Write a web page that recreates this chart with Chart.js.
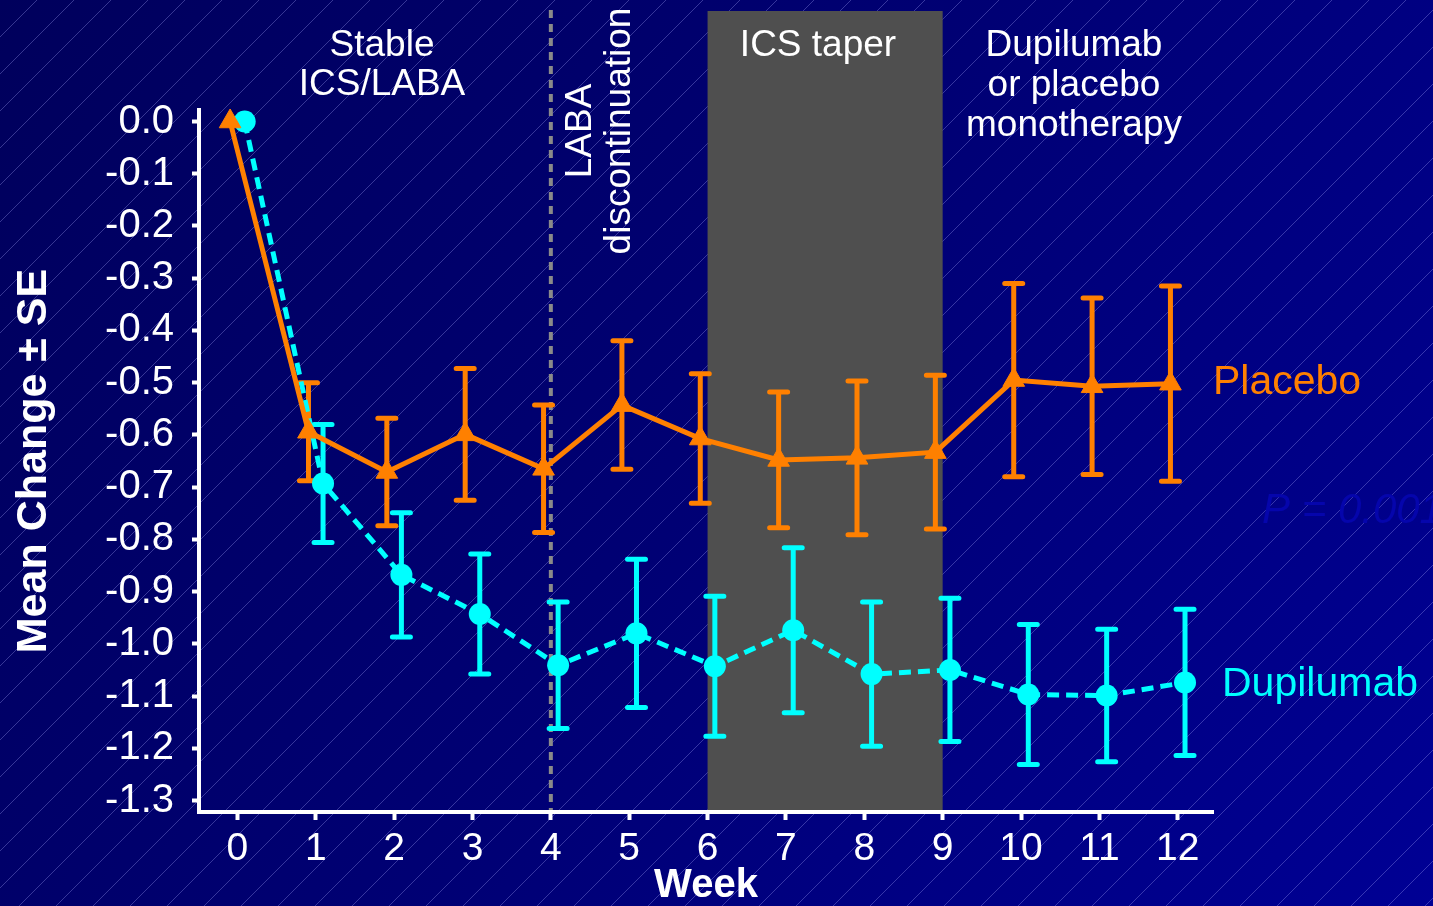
<!DOCTYPE html>
<html>
<head>
<meta charset="utf-8">
<script src="https://cdn.jsdelivr.net/npm/chart.js@4.4.1/dist/chart.umd.min.js"></script>
<style>
html, body { margin: 0; padding: 0; background: #000066; }
#wrap { width: 1433px; height: 906px; }
</style>
</head>
<body>
<div id="wrap"><canvas id="chart" width="1433" height="906"></canvas></div>
<script>
// data
var weeks = [0, 1, 2, 3, 4, 5, 6, 7, 8, 9, 10, 11, 12];
var placeboMean = [0, -0.594, -0.671, -0.599, -0.665, -0.543, -0.607, -0.648, -0.644, -0.633, -0.495, -0.507, -0.502];
var placeboSE   = [0, 0.094, 0.103, 0.126, 0.122, 0.123, 0.124, 0.130, 0.147, 0.147, 0.185, 0.169, 0.187];
var dupiMean    = [0, -0.693, -0.868, -0.943, -1.041, -0.980, -1.043, -0.974, -1.058, -1.050, -1.097, -1.099, -1.074];
var dupiSE      = [0, 0.113, 0.119, 0.115, 0.121, 0.142, 0.134, 0.158, 0.138, 0.137, 0.134, 0.127, 0.140];
var yTicks = [0, -0.1, -0.2, -0.3, -0.4, -0.5, -0.6, -0.7, -0.8, -0.9, -1.0, -1.1, -1.2, -1.3];
var xTicks = weeks;
var labaWeek = 4;
var taperWeeks = [6, 9];

var FONT = '"Liberation Sans", Arial, sans-serif';
var ORANGE = '#ff8000';
var CYAN = '#00ffff';
var jitter = 0.093; // placebo drawn a bit left, dupilumab a bit right

function points(mean, shift) {
    return weeks.map(function(w, i) { return {x: w + shift, y: mean[i]}; });
}

// background, hatch lines, taper band and LABA line
var backdrop = {
    id: 'backdrop',
    beforeDraw: function(chart) {
        var ctx = chart.ctx, w = chart.width, h = chart.height;
        var xs = chart.scales.x, area = chart.chartArea;
        ctx.save();
        var g = ctx.createLinearGradient(0, 0, w, h);
        g.addColorStop(0, '#00005c');
        g.addColorStop(0.5, '#000074');
        g.addColorStop(1, '#000094');
        ctx.fillStyle = g;
        ctx.fillRect(0, 0, w, h);

        ctx.strokeStyle = 'rgba(170,170,255,0.32)';
        ctx.lineWidth = 1;
        ctx.beginPath();
        for (var c = -h; c < w + h; c += 37) {
            ctx.moveTo(c, h);
            ctx.lineTo(c + h, 0);
        }
        ctx.stroke();

        var a = xs.getPixelForValue(taperWeeks[0]), b = xs.getPixelForValue(taperWeeks[1]);
        ctx.fillStyle = '#4f4f4f';
        ctx.fillRect(a, 11, b - a, area.bottom - 11);

        var x4 = xs.getPixelForValue(labaWeek);
        ctx.strokeStyle = '#8a8a8a';
        ctx.lineWidth = 4;
        ctx.setLineDash([8, 6]);
        ctx.beginPath();
        ctx.moveTo(x4, 10);
        ctx.lineTo(x4, area.bottom);
        ctx.stroke();
        ctx.restore();
    }
};

// error bars (mean +/- SE)
var errorBars = {
    id: 'errorBars',
    beforeDatasetsDraw: function(chart) {
        var ctx = chart.ctx, ys = chart.scales.y;
        chart.data.datasets.forEach(function(ds, di) {
            var meta = chart.getDatasetMeta(di);
            ctx.save();
            ctx.strokeStyle = ds.borderColor;
            meta.data.forEach(function(pt, i) {
                var se = ds.se[i];
                if (!se) return;
                var top = ys.getPixelForValue(ds.mean[i] + se);
                var bot = ys.getPixelForValue(ds.mean[i] - se);
                ctx.lineWidth = 5;
                ctx.beginPath();
                ctx.moveTo(pt.x, top);
                ctx.lineTo(pt.x, bot);
                ctx.stroke();
                ctx.lineCap = 'round';
                ctx.beginPath();
                ctx.moveTo(pt.x - 9, top); ctx.lineTo(pt.x + 9, top);
                ctx.moveTo(pt.x - 9, bot); ctx.lineTo(pt.x + 9, bot);
                ctx.stroke();
                ctx.lineCap = 'butt';
            });
            ctx.restore();
        });
    }
};

// phase labels and series names
var labels = {
    id: 'labels',
    afterDraw: function(chart) {
        var ctx = chart.ctx;
        ctx.save();
        ctx.textAlign = 'center';
        ctx.textBaseline = 'middle';
        ctx.fillStyle = '#ffffff';
        ctx.font = '37px ' + FONT;
        ctx.fillText('Stable', 382, 46);
        ctx.fillText('ICS/LABA', 382, 85);
        ctx.fillText('ICS taper', 818, 46);
        ctx.fillText('Dupilumab', 1074, 46);
        ctx.fillText('or placebo', 1074, 86);
        ctx.fillText('monotherapy', 1074, 126);

        ctx.save();
        ctx.translate(581, 131);
        ctx.rotate(-Math.PI / 2);
        ctx.fillText('LABA', 0, 0);
        ctx.restore();
        ctx.save();
        ctx.translate(620, 131);
        ctx.rotate(-Math.PI / 2);
        ctx.fillText('discontinuation', 0, 0);
        ctx.restore();

        ctx.textAlign = 'left';
        ctx.font = '41px ' + FONT;
        ctx.fillStyle = ORANGE;
        ctx.fillText('Placebo', 1213, 383);
        ctx.fillStyle = CYAN;
        ctx.fillText('Dupilumab', 1222, 685);

        ctx.font = 'italic 42px ' + FONT;
        ctx.fillStyle = '#0505ac';
        ctx.fillText('P = 0.001', 1262, 511);
        ctx.restore();
    }
};

var ctx = document.getElementById('chart');
new Chart(ctx, {
    type: 'line',
    data: {
        datasets: [{
            label: 'Placebo',
            data: points(placeboMean, -jitter),
            mean: placeboMean,
            se: placeboSE,
            borderColor: ORANGE,
            backgroundColor: ORANGE,
            borderWidth: 5,
            pointStyle: 'triangle',
            pointRadius: 12.5,
            pointBorderWidth: 1,
            pointBackgroundColor: ORANGE,
            pointBorderColor: ORANGE,
            tension: 0,
            clip: false
        }, {
            label: 'Dupilumab',
            data: points(dupiMean, jitter),
            mean: dupiMean,
            se: dupiSE,
            borderColor: CYAN,
            backgroundColor: CYAN,
            borderWidth: 5,
            borderDash: [12, 7],
            pointStyle: 'circle',
            pointRadius: 11,
            pointBorderWidth: 0,
            pointBackgroundColor: CYAN,
            tension: 0,
            clip: false
        }]
    },
    options: {
        responsive: false,
        animation: false,
        layout: { padding: { top: 110, right: 220, left: 0, bottom: 0 } },
        plugins: { legend: { display: false }, tooltip: { enabled: false } },
        scales: {
            x: {
                type: 'linear',
                min: -0.49,
                max: 12.45,
                afterFit: function(s) { s.height = 94; },
                afterBuildTicks: function(s) { s.ticks = xTicks.map(function(v) { return {value: v}; }); },
                grid: { display: true, drawOnChartArea: false, color: '#ffffff', tickLength: 8, tickWidth: 4 },
                border: { color: '#ffffff', width: 4 },
                ticks: { color: '#ffffff', font: { family: FONT, size: 39 }, padding: 6, maxRotation: 0, autoSkip: false },
                title: { display: true, text: 'Week', color: '#ffffff', font: { family: FONT, size: 40, weight: 'bold', lineHeight: 1 }, padding: 0 }
            },
            y: {
                type: 'linear',
                min: -1.322,
                max: 0.022,
                afterFit: function(s) { s.width = 199; },
                afterBuildTicks: function(s) { s.ticks = yTicks.map(function(v) { return {value: v}; }); },
                grid: { display: true, drawOnChartArea: false, color: '#ffffff', tickLength: 7, tickWidth: 4 },
                border: { color: '#ffffff', width: 4 },
                ticks: {
                    color: '#ffffff', font: { family: FONT, size: 40 }, padding: 18, autoSkip: false,
                    callback: function(v) { return v === 0 ? '0.0' : v.toFixed(1); }
                },
                title: { display: true, text: 'Mean Change \u00b1 SE', color: '#ffffff', font: { family: FONT, size: 43, weight: 'bold' }, padding: { top: 8 } }
            }
        }
    },
    plugins: [backdrop, errorBars, labels]
});
</script>
</body>
</html>
